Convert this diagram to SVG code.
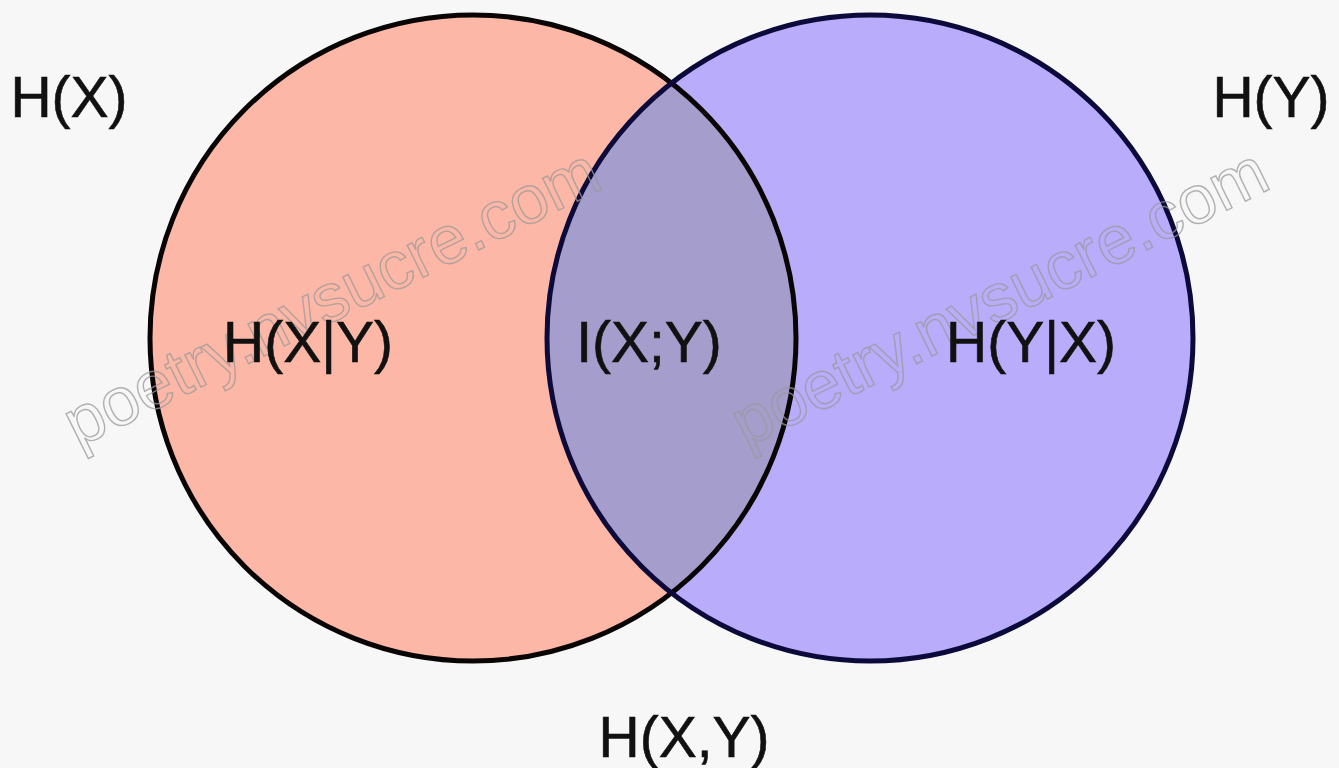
<svg xmlns="http://www.w3.org/2000/svg" width="1339" height="768" viewBox="0 0 1339 768">
  <style>
    .lbl { font-family: "Liberation Sans", Arial, sans-serif; font-size: 57px; fill: #111; stroke: #111; stroke-width: 0.6; text-anchor: middle; }
    .wm { font-family: "Liberation Sans", Arial, sans-serif; font-size: 68px; fill: none; stroke: #9a9a9a; stroke-width: 1.4; opacity: 0.75; }
  </style>
  <rect x="0" y="0" width="1339" height="768" fill="#f7f7f7"/>
  <g id="circle-x">
    <circle cx="473" cy="338" r="323" fill="#fdb7a6"/>
  </g>
  <g id="circle-y">
    <circle cx="870" cy="338" r="323" fill="#b8acfb"/>
  </g>
  <g id="intersection">
    <path d="M671.5,83.2 A323,323 0 0 1 671.5,592.8 A323,323 0 0 1 671.5,83.2 Z" fill="#a59dcb"/>
  </g>
  <g id="outlines" fill="none" stroke-width="5">
    <circle cx="473" cy="338" r="323" stroke="#0a0505"/>
    <circle cx="870" cy="338" r="323" stroke="#0c0a3a"/>
  </g>
  <g id="watermarks">
    <text class="wm" transform="translate(78,448) rotate(-26.3)">poetry.nvsucre.com</text>
    <text class="wm" transform="translate(746,448) rotate(-26.3)">poetry.nvsucre.com</text>
  </g>
  <g id="labels">
    <text id="hx" class="lbl" x="69" y="117">H(X)</text>
    <text id="hy" class="lbl" x="1271" y="117">H(Y)</text>
    <text id="hxgy" class="lbl" x="308" y="362">H(X|Y)</text>
    <text id="ixy" class="lbl" x="649" y="362">I(X;Y)</text>
    <text id="hygx" class="lbl" x="1031" y="362">H(Y|X)</text>
    <text id="hxy" class="lbl" x="684" y="757">H(X,Y)</text>
  </g>
</svg>
